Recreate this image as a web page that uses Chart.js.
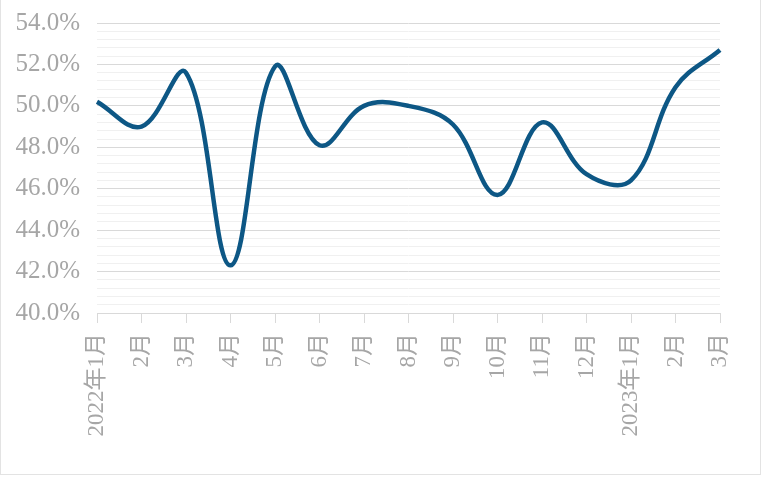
<!DOCTYPE html>
<html>
<head>
<meta charset="utf-8">
<script src="https://cdn.jsdelivr.net/npm/chart.js@4"></script>
<style>
  body { margin: 0; background: #fff; }
  .frame {
    position: relative;
    width: 761px;
    height: 477px;
  }
  .frame::after {
    content: '';
    position: absolute;
    left: 0; top: 0;
    width: 759px; height: 474px;
    border-left: 1px solid #e3e3e3;
    border-right: 1px solid #e3e3e3;
    border-bottom: 1px solid #e3e3e3;
    pointer-events: none;
  }
</style>
</head>
<body>
<div class="frame">
  <canvas id="chart" width="761" height="477"></canvas>
</div>
<script>
// months along the x axis
const months = ['2022年1月', '2月', '3月', '4月', '5月', '6月', '7月', '8月', '9月',
                '10月', '11月', '12月', '2023年1月', '2月', '3月'];
// series values, percent
const values = [50.2, 49.0, 51.6, 42.3, 51.9, 48.1, 50.0, 50.0, 49.1,
                45.7, 49.2, 46.7, 46.4, 50.9, 52.7];
// axis range and steps
const yMin = 40;
const yMax = 54;
const yMajor = 2;
const yMinor = 0.4;

const labelFamily = "'Liberation Serif', 'Noto Sans CJK SC', serif";
const labelColor = '#a6a6a6';

function isMajor(v) {
    return Math.abs(v / yMajor - Math.round(v / yMajor)) < 1e-6;
}

// drop the label overhang so the layout padding alone sets the plot box
function noOverhang(scale) {
    scale.paddingTop = 0;
    scale.paddingBottom = 0;
    scale.paddingLeft = 0;
    scale.paddingRight = 0;
}

const ctx = document.getElementById('chart').getContext('2d');
new Chart(ctx, {
    type: 'line',
    data: {
        labels: months,
        datasets: [{
            data: values,
            borderColor: '#0d5785',
            borderWidth: 4.5,
            pointRadius: 0,
            tension: 0.38,
            fill: false
        }]
    },
    options: {
        responsive: false,
        animation: false,
        layout: { padding: { top: 23, right: 41, left: 0, bottom: 0 } },
        plugins: {
            legend: { display: false },
            tooltip: { enabled: false }
        },
        scales: {
            x: {
                offset: false,
                grid: {
                    drawOnChartArea: false,
                    drawTicks: true,
                    tickLength: 10,
                    color: '#d9d9d9'
                },
                border: { display: true, color: '#d9d9d9' },
                ticks: {
                    autoSkip: false,
                    maxRotation: 90,
                    minRotation: 90,
                    padding: 10,
                    color: labelColor,
                    font: { family: labelFamily, size: 23 }
                },
                afterFit: scale => { scale.height = 164; noOverhang(scale); }
            },
            y: {
                min: yMin,
                max: yMax,
                grid: {
                    drawTicks: false,
                    color: c => isMajor(c.tick.value) ? '#d9d9d9' : '#f0f0f0',
                    lineWidth: 1
                },
                border: { display: false },
                ticks: {
                    stepSize: yMinor,
                    autoSkip: false,
                    padding: 17,
                    color: labelColor,
                    font: { family: labelFamily, size: 25 },
                    callback: v => isMajor(v) ? v.toFixed(1) + '%' : ''
                },
                afterFit: scale => { scale.width = 97; noOverhang(scale); }
            }
        }
    }
});
</script>
</body>
</html>
